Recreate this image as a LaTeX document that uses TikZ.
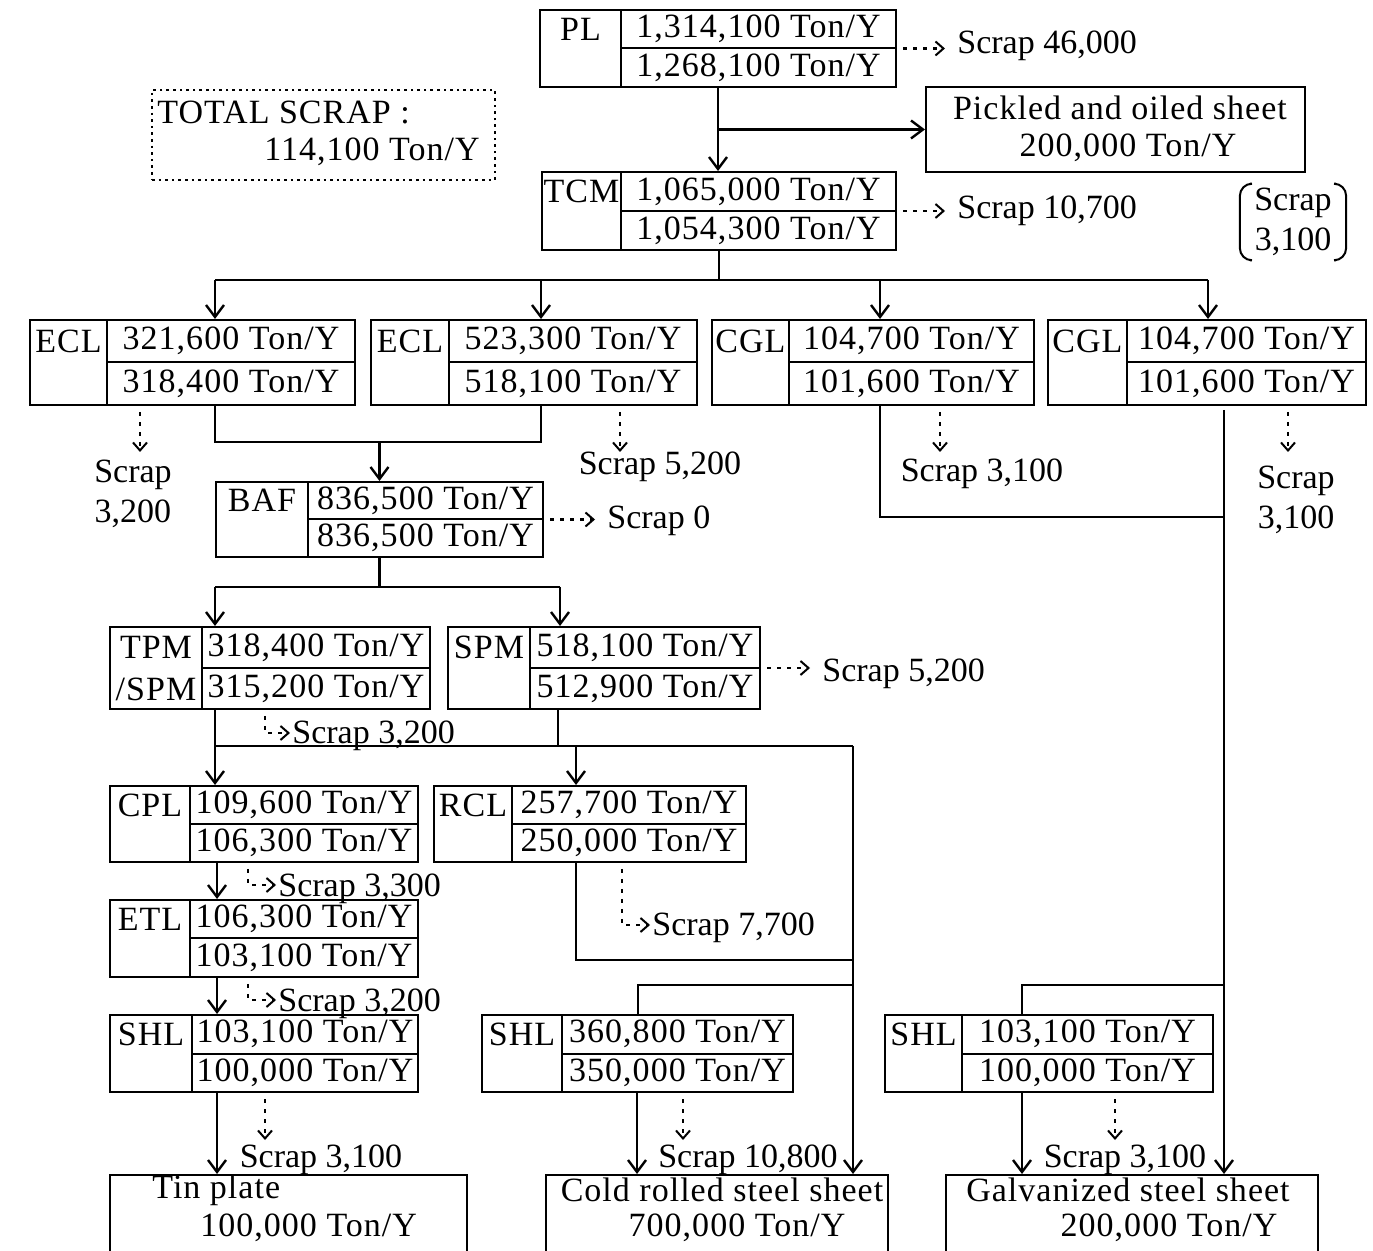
\documentclass[tikz,border=0pt]{standalone}
\usepackage{fontspec}
\setmainfont[LetterSpace=3]{Liberation Serif}
\newfontfamily\scrapfont{Liberation Serif}
\usetikzlibrary{fit,arrows.meta}
\newcommand{\fsz}{\fontsize{17}{20}\selectfont}
\tikzset{
  box/.style={draw, line width=1pt, inner sep=0pt},
  boxline/.style={line width=1pt},
  txt/.style={inner sep=1pt, font=\fsz},
  stxt/.style={inner sep=1pt, font=\scrapfont\fsz},
  flow/.style={line width=1.3pt},
  arr/.style={flow, -{Straight Barb[length=6pt,width=9pt,line width=1.2pt]}},
  scr/.style={line width=1.2pt, dash pattern=on 2pt off 3pt, shorten <=3pt, -{Straight Barb[length=4pt,width=7pt,line width=1pt]}},
  scrh/.style={scr, shorten >=5pt},
}
\newcommand{\pbox}[9]{%
  \node[box, fit={(#2,#3) (#5,#6)}] (#1) {};
  \draw[boxline] (#4,#3) -- (#4,#6);
  \draw[boxline] (#4,{(#3+#6)/2}) -- (#5,{(#3+#6)/2});
  \node[txt] (#1-l) at ({(#2+#4)/2},{(3*#3+#6)/4}) {#7};
  \node[txt] (#1-t) at ({(#4+#5)/2},{(3*#3+#6)/4}) {#8};
  \node[txt] (#1-b) at ({(#4+#5)/2},{(#3+3*#6)/4}) {#9};
}
\begin{document}
\begin{tikzpicture}[x=0.5pt,y=-0.5pt,font=\fsz]
\useasboundingbox (0,0) rectangle (1373,1251);
\clip (0,0) rectangle (1373,1251);
\fill[white] (0,0) rectangle (1373,1251);

% process boxes
\pbox{PL}{540}{10}{621}{896}{87}{PL}{1,314,100 Ton/Y}{1,268,100 Ton/Y}
\pbox{TCM}{542}{172}{621}{896}{250}{TCM}{1,065,000 Ton/Y}{1,054,300 Ton/Y}
\pbox{ECLa}{30}{320}{107}{355}{405}{ECL}{321,600 Ton/Y}{318,400 Ton/Y}
\pbox{ECLb}{371}{320}{449}{697}{405}{ECL}{523,300 Ton/Y}{518,100 Ton/Y}
\pbox{CGLa}{712}{320}{789}{1034}{405}{CGL}{104,700 Ton/Y}{101,600 Ton/Y}
\pbox{CGLb}{1048}{320}{1127}{1366}{405}{CGL}{104,700 Ton/Y}{101,600 Ton/Y}
\pbox{BAF}{216}{482}{308}{543}{557}{BAF}{836,500 Ton/Y}{836,500 Ton/Y}
\pbox{TPM}{110}{627}{202}{430}{709}{TPM}{318,400 Ton/Y}{315,200 Ton/Y}
\node[txt] (TPM-l2) at (156,689) {/SPM};
\pbox{SPM}{448}{627}{530}{760}{709}{SPM}{518,100 Ton/Y}{512,900 Ton/Y}
\pbox{CPL}{110}{786}{190}{418}{862}{CPL}{109,600 Ton/Y}{106,300 Ton/Y}
\pbox{RCL}{434}{786}{512}{746}{862}{RCL}{257,700 Ton/Y}{250,000 Ton/Y}
\pbox{ETL}{110}{900}{190}{418}{977}{ETL}{106,300 Ton/Y}{103,100 Ton/Y}
\pbox{SHLa}{110}{1015}{192}{418}{1092}{SHL}{103,100 Ton/Y}{100,000 Ton/Y}
\pbox{SHLb}{482}{1015}{562}{793}{1092}{SHL}{360,800 Ton/Y}{350,000 Ton/Y}
\pbox{SHLc}{885}{1015}{962}{1213}{1092}{SHL}{103,100 Ton/Y}{100,000 Ton/Y}

% product boxes
\node[box, fit={(926,87) (1305,172)}] (Pk) {};
\node[txt] (Pk-1) at (1120,108) {Pickled and oiled sheet};
\node[txt] (Pk-2) at (1128,148) {200,000 Ton/Y};
\node[box, fit={(110,1175) (467,1300)}] (Tin) {};
\node[txt, anchor=west] (Tin-1) at (150,1190) {Tin plate};
\node[txt, anchor=west] (Tin-2) at (198,1228) {100,000 Ton/Y};
\node[box, fit={(546,1175) (888,1300)}] (Cold) {};
\node[txt] (Cold-1) at (722,1190) {Cold rolled steel sheet};
\node[txt] (Cold-2) at (737,1228) {700,000 Ton/Y};
\node[box, fit={(946,1175) (1318,1300)}] (Galv) {};
\node[txt] (Galv-1) at (1128,1190) {Galvanized steel sheet};
\node[txt] (Galv-2) at (1169,1228) {200,000 Ton/Y};

% total scrap
\node[draw, dotted, line width=1.3pt, inner sep=0pt, fit={(152,90) (495,180)}] (TS) {};
\node[txt, anchor=west] (TS-1) at (155,112) {TOTAL SCRAP :};
\node[txt, anchor=west] (TS-2) at (262,152) {114,100 Ton/Y};

% scrap labels
\node[stxt, anchor=west] (s1) at (955,46) {Scrap 46,000};
\node[stxt, anchor=west] (s2) at (955,211) {Scrap 10,700};
\node[stxt, align=center, inner xsep=7pt, inner ysep=2pt] (sBr) at (1293,222) {Scrap\\3,100};
\node[stxt, align=center] (sE1) at (133,494) {Scrap\\3,200};
\node[stxt] (sE2) at (660,467) {Scrap 5,200};
\node[stxt] (sG1) at (982,474) {Scrap 3,100};
\node[stxt, align=center] (sG2) at (1296,500) {Scrap\\3,100};
\node[stxt, anchor=west] (sB0) at (605,521) {Scrap 0};
\node[stxt, anchor=west] (sT) at (290,736) {Scrap 3,200};
\node[stxt, anchor=west] (sS) at (820,674) {Scrap 5,200};
\node[stxt, anchor=west] (sC) at (276,889) {Scrap 3,300};
\node[stxt, anchor=west] (sEt) at (276,1004) {Scrap 3,200};
\node[stxt, anchor=west] (sR) at (650,928) {Scrap 7,700};
\node[stxt] (sH1) at (321,1160) {Scrap 3,100};
\node[stxt] (sH2) at (748,1160) {Scrap 10,800};
\node[stxt] (sH3) at (1125,1160) {Scrap 3,100};

% bracket around scrap 3,100
\draw[line width=1pt, rounded corners=6pt] ([xshift=5pt]sBr.north west) -- (sBr.north west) -- (sBr.south west) -- ([xshift=5pt]sBr.south west);
\draw[line width=1pt, rounded corners=6pt] ([xshift=-5pt]sBr.north east) -- (sBr.north east) -- (sBr.south east) -- ([xshift=-5pt]sBr.south east);

% PL -> TCM, pickled
\draw[arr] (PL.south) -- (PL.south |- TCM.north);
\draw[arr] (PL.south |- Pk.west) -- (Pk.west);
\draw[scrh] (PL.east) -- (PL.east -| s1.west);
\draw[scrh] (TCM.east) -- (TCM.east -| s2.west);

% TCM -> row 2
\coordinate (r1) at (215,280);
\coordinate (r2) at (541,280);
\coordinate (r3) at (880,280);
\coordinate (r4) at (1208,280);
\draw[flow] (TCM.south) -- (TCM.south |- r1);
\draw[flow] (r1) -- (r4);
\draw[arr] (r1) -- (r1 |- ECLa.north);
\draw[arr] (r2) -- (r2 |- ECLb.north);
\draw[arr] (r3) -- (r3 |- CGLa.north);
\draw[arr] (r4) -- (r4 |- CGLb.north);

% row 2 scraps
\coordinate (q1) at (140,452);
\coordinate (q2) at (620,452);
\coordinate (q3) at (940,452);
\coordinate (q4) at (1288,452);
\draw[scr] (q1 |- ECLa.south) -- (q1);
\draw[scr] (q2 |- ECLb.south) -- (q2);
\draw[scr] (q3 |- CGLa.south) -- (q3);
\draw[scr] (q4 |- CGLb.south) -- (q4);

% ECL -> BAF
\coordinate (j1) at (215,442);
\coordinate (j2) at (541,442);
\draw[flow] (j1 |- ECLa.south) -- (j1) -- (j2) -- (j2 |- ECLb.south);
\draw[arr] (BAF.north |- j1) -- (BAF.north);
\draw[scrh] (BAF.east) -- (BAF.east -| sB0.west);

% CGL lines
\coordinate (j3) at (880,517);
\coordinate (j4) at (1224,517);
\draw[flow] (j3 |- CGLa.south) -- (j3) -- (j4);
\draw[arr] ([yshift=-2pt]j4 |- CGLb.south) -- (j4 |- Galv.north);

% BAF -> TPM, SPM
\coordinate (j6) at (215,587);
\coordinate (j7) at (560,587);
\draw[flow] (BAF.south) -- (BAF.south |- j6);
\draw[flow] (j6) -- (j7);
\draw[arr] (j6) -- (j6 |- TPM.north);
\draw[arr] (j7) -- (j7 |- SPM.north);

% TPM, SPM -> CPL, RCL, Cold
\coordinate (j8) at (215,746);
\coordinate (j9) at (558,746);
\coordinate (j10) at (853,746);
\coordinate (j11) at (576,746);
\draw[arr] (j8 |- TPM.south) -- (j8 |- CPL.north);
\draw[flow] (j9 |- SPM.south) -- (j9);
\draw[flow] (j8) -- (j10);
\draw[arr] (j10) -- (j10 |- Cold.north);
\draw[arr] (j11) -- (j11 |- RCL.north);
\coordinate (q5) at (265,733);
\draw[scr] (q5 |- TPM.south) -- (q5) -- (q5 -| sT.west);
\draw[scrh] (SPM.east) -- (SPM.east -| sS.west);

% CPL -> ETL -> SHL -> Tin
\coordinate (j12) at (217,0);
\draw[arr] (j12 |- CPL.south) -- (j12 |- ETL.north);
\draw[arr] (j12 |- ETL.south) -- (j12 |- SHLa.north);
\draw[arr] (j12 |- SHLa.south) -- (j12 |- Tin.north);
\coordinate (q6) at (248,885);
\coordinate (q7) at (248,1000);
\coordinate (q8) at (265,1140);
\draw[scr] (q6 |- CPL.south) -- (q6) -- (q6 -| sC.west);
\draw[scr] (q7 |- ETL.south) -- (q7) -- (q7 -| sEt.west);
\draw[scr] (q8 |- SHLa.south) -- (q8);

% RCL -> cold line, SHL b
\coordinate (j13) at (576,960);
\coordinate (j14) at (853,960);
\draw[flow] (j13 |- RCL.south) -- (j13) -- (j14);
\coordinate (q9) at (622,925);
\draw[scr] (q9 |- RCL.south) -- (q9) -- (q9 -| sR.west);
\coordinate (j15) at (853,985);
\coordinate (j16) at (638,985);
\draw[flow] (j15) -- (j16) -- (j16 |- SHLb.north);
\coordinate (j17) at (637,0);
\draw[arr] (j17 |- SHLb.south) -- (j17 |- Cold.north);
\coordinate (q10) at (683,1140);
\draw[scr] (q10 |- SHLb.south) -- (q10);

% SHL c -> Galvanized
\coordinate (j18) at (1022,985);
\coordinate (j19) at (1224,985);
\draw[flow] (j18 |- SHLc.north) -- (j18) -- (j19);
\draw[arr] (j18 |- SHLc.south) -- (j18 |- Galv.north);
\coordinate (q11) at (1115,1140);
\draw[scr] (q11 |- SHLc.south) -- (q11);
\end{tikzpicture}
\end{document}
